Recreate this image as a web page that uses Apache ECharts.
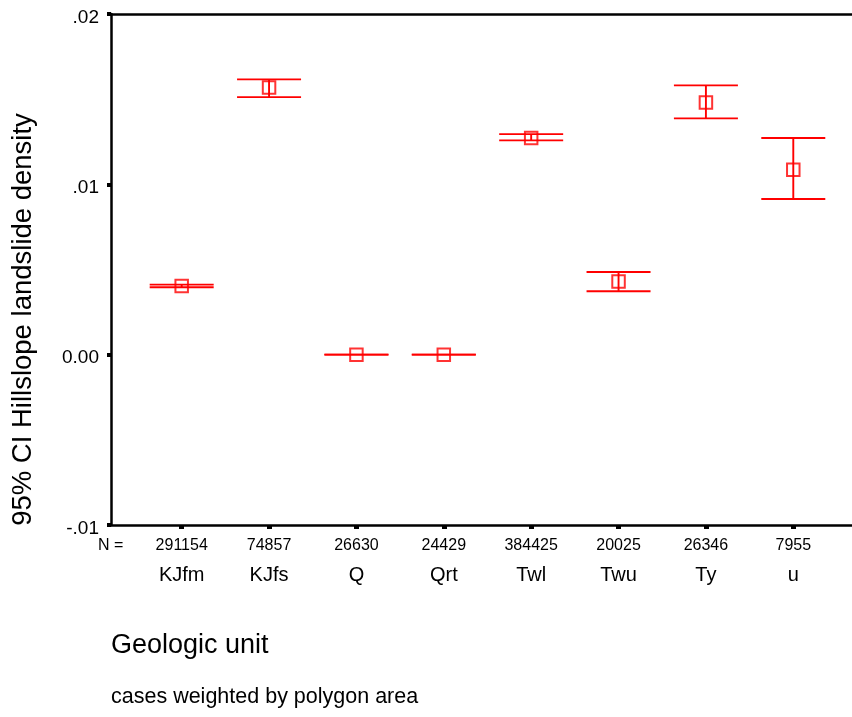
<!DOCTYPE html>
<html>
<head>
<meta charset="utf-8">
<script src="https://cdn.jsdelivr.net/npm/echarts@6/dist/echarts.min.js"></script>
<style>
html,body{margin:0;padding:0;background:#fff;}
#chart{width:852px;height:717px;}
</style>
</head>
<body>
<div id="chart"></div>
<script>
var categories = ['KJfm', 'KJfs', 'Q', 'Qrt', 'Twl', 'Twu', 'Ty', 'u'];
var counts = ['291154', '74857', '26630', '24429', '384425', '20025', '26346', '7955'];
var means = [0.00403, 0.01568, 0.0, 0.0, 0.01272, 0.00429, 0.01480, 0.01086];
var lower = [0.00396, 0.01512, 0.0, 0.0, 0.01258, 0.00372, 0.01387, 0.00914];
var upper = [0.00411, 0.01616, 0.0, 0.0, 0.01295, 0.00485, 0.01581, 0.01272];
var yTicks = [-0.01, 0, 0.01, 0.02];
var yTickLabels = ['-.01', '0.00', '.01', '.02'];

var positions = categories.map(function (c, i) { return i + 1; });
var errData = categories.map(function (c, i) { return [positions[i], lower[i], upper[i]]; });
var meanData = categories.map(function (c, i) { return [positions[i], means[i]]; });

var FONT = 'Liberation Sans, Arial, sans-serif';
var RED = '#ff0000';
var XMIN = 0.191, XMAX = 8.672;

var chart = echarts.init(document.getElementById('chart'), null, {renderer: 'canvas'});

function yLabel(v) {
  var k = Math.round(v * 100);
  for (var i = 0; i < yTicks.length; i++) {
    if (Math.round(yTicks[i] * 100) === k) return yTickLabels[i];
  }
  return '';
}

var option = {
  animation: false,
  backgroundColor: '#fff',
  grid: {left: 111, top: 14, right: 0, height: 511, containLabel: false},
  xAxis: [
    {
      type: 'value', position: 'bottom', min: XMIN, max: XMAX,
      splitLine: {show: false},
      axisLine: {show: true, onZero: false, lineStyle: {color: '#000', width: 2.5}},
      axisTick: {show: true, customValues: positions, length: 4, lineStyle: {color: '#000', width: 5}},
      axisLabel: {
        show: true, customValues: positions, margin: 13,
        fontFamily: FONT, fontSize: 16, color: '#000',
        formatter: function (v) { return counts[Math.round(v) - 1] || ''; }
      }
    },
    {
      type: 'value', position: 'bottom', min: XMIN, max: XMAX, offset: 0,
      splitLine: {show: false},
      axisLine: {show: false, onZero: false},
      axisTick: {show: false},
      axisLabel: {
        show: true, customValues: positions, margin: 40,
        fontFamily: FONT, fontSize: 20, color: '#000',
        formatter: function (v) { return categories[Math.round(v) - 1] || ''; }
      }
    },
    {
      type: 'value', position: 'top', min: XMIN, max: XMAX,
      splitLine: {show: false},
      axisLine: {show: true, onZero: false, lineStyle: {color: '#000', width: 2.5}},
      axisTick: {show: false},
      axisLabel: {show: false}
    }
  ],
  yAxis: {
    type: 'value', min: -0.01, max: 0.02, interval: 0.01,
    splitLine: {show: false},
    axisLine: {show: true, onZero: false, lineStyle: {color: '#000', width: 2.5}},
    axisTick: {show: true, length: 4, lineStyle: {color: '#000', width: 4}},
    axisLabel: {
      margin: 12, fontFamily: FONT, fontSize: 19, color: '#000',
      verticalAlign: 'top', lineHeight: 7,
      formatter: yLabel
    }
  },
  series: [
    {
      type: 'custom',
      xAxisIndex: 0,
      data: errData,
      renderItem: function (params, api) {
        var lo = api.coord([api.value(0), api.value(1)]);
        var hi = api.coord([api.value(0), api.value(2)]);
        var half = 32;
        var style = {stroke: RED, lineWidth: 1.9, fill: null};
        return {
          type: 'group',
          children: [
            {type: 'line', shape: {x1: lo[0], y1: lo[1], x2: hi[0], y2: hi[1]}, style: style},
            {type: 'line', shape: {x1: lo[0] - half, y1: lo[1], x2: lo[0] + half, y2: lo[1]}, style: style},
            {type: 'line', shape: {x1: hi[0] - half, y1: hi[1], x2: hi[0] + half, y2: hi[1]}, style: style}
          ]
        };
      },
      z: 2
    },
    {
      type: 'scatter',
      xAxisIndex: 0,
      data: meanData,
      symbol: 'rect',
      symbolSize: 12.5,
      itemStyle: {color: 'rgba(0,0,0,0)', borderColor: RED, borderWidth: 2},
      z: 3
    }
  ],
  graphic: [
    {type: 'text', left: 98, top: 538, style: {text: 'N =', fontFamily: FONT, fontSize: 16, fill: '#000'}},
    {type: 'text', x: 23, y: 319.5, rotation: Math.PI / 2,
      style: {text: '95% CI Hillslope landslide density', fontFamily: FONT, fontSize: 27.5, fill: '#000',
        textAlign: 'center', textVerticalAlign: 'middle'}},
    {type: 'text', x: 111, y: 645.5,
      style: {text: 'Geologic unit', fontFamily: FONT, fontSize: 27, fill: '#000', textAlign: 'left', textVerticalAlign: 'middle'}},
    {type: 'text', x: 111, y: 697,
      style: {text: 'cases weighted by polygon area', fontFamily: FONT, fontSize: 21.5, fill: '#000', textAlign: 'left', textVerticalAlign: 'middle'}}
  ]
};
chart.setOption(option);
</script>
</body>
</html>
